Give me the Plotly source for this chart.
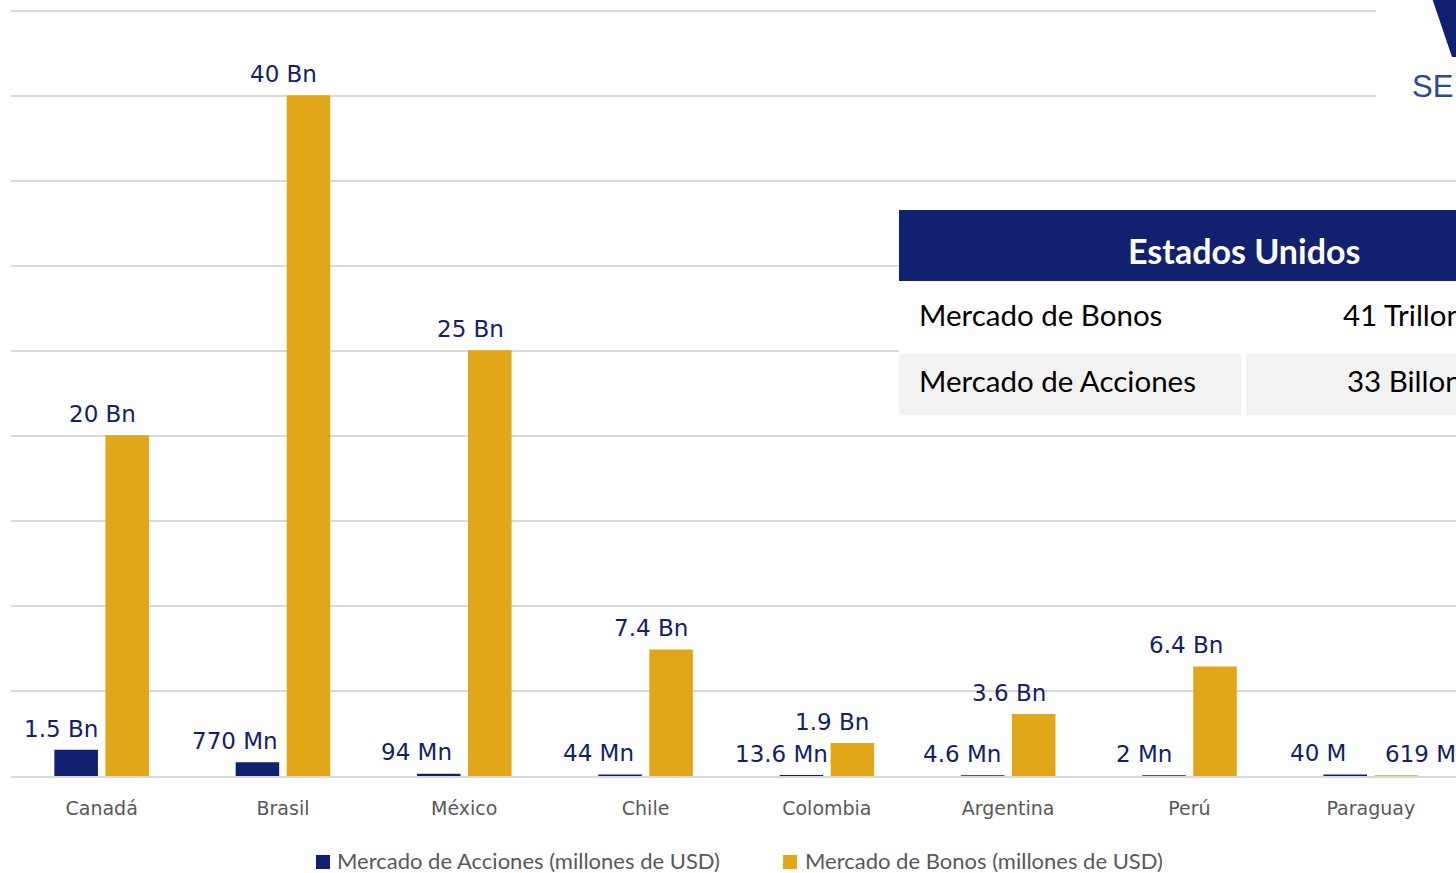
import plotly.graph_objects as go

# ---------------- data ----------------
paises = ["Canadá", "Brasil", "México", "Chile", "Colombia", "Argentina", "Perú", "Paraguay"]
acciones = [1500, 770, 94, 44, 13.6, 4.6, 2, 40]          # millones de USD
# Paraguay's bond bar is drawn at (almost) zero height in the picture
bonos = [20000, 40000, 25000, 7400, 1900, 3600, 6400, 0.619]
acciones_txt = ["1.5 Bn", "770 Mn", "94 Mn", "44 Mn", "13.6 Mn", "4.6 Mn", "2 Mn", "40 M"]
bonos_txt = ["20 Bn", "40 Bn", "25 Bn", "7.4 Bn", "1.9 Bn", "3.6 Bn", "6.4 Bn", "619 M"]
serie_acciones = "Mercado de Acciones (millones de USD)"
serie_bonos = "Mercado de Bonos (millones de USD)"
tabla_titulo = "Estados Unidos"
tabla_filas = ["Mercado de Bonos", "Mercado de Acciones"]
tabla_valores = ["41 Trillones", "33 Billones"]

# ---------------- style ----------------
NAVY = "#10206e"
GOLD = "#e2a619"
LABEL = "#13216a"
GRAY_TXT = "#595959"
GRID = "#d9d9d9"
W, H = 1456, 873
ML, MR, MT, MB = 11, 0, 6, 97
YMAX = 45294  # slightly above 45000 so the top gridline is drawn

# label nudges (pixels, relative to category centre)
shift_acc = [-41, -48, -48, -47, -45, -46, -45, -53]
shift_bon = [1, 1, 6, 5, 5, 1, -3, 50]


def px(xpix):
    return (xpix - ML) / (W - ML - MR)


def py(ypix):
    return (H - MB - ypix) / (H - MT - MB)


fig = go.Figure()
fig.add_trace(go.Bar(
    x=paises, y=acciones, name=serie_acciones,
    marker=dict(color=NAVY, line=dict(color=NAVY, width=1.5)),
))
fig.add_trace(go.Bar(
    x=paises, y=bonos, name=serie_bonos,
    marker=dict(color=GOLD, line=dict(color=GOLD, width=1.5)),
))

annotations = []
for i, p in enumerate(paises):
    annotations.append(dict(
        x=p, y=acciones[i], xref="x", yref="y", text=acciones_txt[i],
        showarrow=False, xanchor="center", yanchor="bottom",
        xshift=shift_acc[i], yshift=7,
        font=dict(family="DejaVu Sans", size=23, color=LABEL),
    ))
    annotations.append(dict(
        x=p, y=bonos[i], xref="x", yref="y", text=bonos_txt[i],
        showarrow=False, xanchor="center", yanchor="bottom",
        xshift=shift_bon[i], yshift=7,
        font=dict(family="DejaVu Sans", size=23, color=LABEL),
    ))

shapes = []
# logo background and mark
shapes.append(dict(type="rect", xref="paper", yref="paper", layer="above",
                   x0=px(1376), x1=px(1500), y0=py(112), y1=py(-5),
                   fillcolor="white", line=dict(width=0)))
shapes.append(dict(type="path", xref="paper", yref="paper", layer="above",
                   path=f"M {px(1432)} {py(-2)} L {px(1470)} {py(-2)} L {px(1470)} {py(57)} "
                        f"L {px(1452)} {py(57)} Z",
                   fillcolor=NAVY, line=dict(width=0)))
annotations.append(dict(x=px(1410), y=py(86), xref="paper", yref="paper", text="SE",
                        showarrow=False, xanchor="left", yanchor="middle",
                        font=dict(family="Liberation Sans", size=31, color="#2b4a9b")))

# table overlay
shapes.append(dict(type="rect", xref="paper", yref="paper", layer="above",
                   x0=px(899), x1=px(1600), y0=py(281), y1=py(210),
                   fillcolor="#11216f", line=dict(width=0)))
shapes.append(dict(type="rect", xref="paper", yref="paper", layer="above",
                   x0=px(899), x1=px(1600), y0=py(352), y1=py(281),
                   fillcolor="white", line=dict(width=0)))
shapes.append(dict(type="rect", xref="paper", yref="paper", layer="above",
                   x0=px(899), x1=px(1241), y0=py(415), y1=py(354),
                   fillcolor="#f2f2f2", line=dict(width=0)))
shapes.append(dict(type="rect", xref="paper", yref="paper", layer="above",
                   x0=px(1246), x1=px(1600), y0=py(415), y1=py(354),
                   fillcolor="#f2f2f2", line=dict(width=0)))
annotations.append(dict(x=px(1244), y=py(250), xref="paper", yref="paper",
                        text=f"<b>{tabla_titulo}</b>", showarrow=False,
                        xanchor="center", yanchor="middle",
                        font=dict(family="Lato", size=34, color="white")))
for j, (lab, val, yy) in enumerate(zip(tabla_filas, tabla_valores, [314, 380])):
    annotations.append(dict(x=px(917), y=py(yy), xref="paper", yref="paper", text=lab,
                            showarrow=False, xanchor="left", yanchor="middle",
                            font=dict(family="Lato", size=29.5, color="black")))
    annotations.append(dict(x=px(1341 + 4 * j), y=py(yy), xref="paper", yref="paper", text=val,
                            showarrow=False, xanchor="left", yanchor="middle",
                            font=dict(family="Lato", size=29.5, color="black")))

# manual legend (keeps the plot area fixed)
for (sx, tx, name, col) in [(316, 335, serie_acciones, NAVY), (783, 803, serie_bonos, GOLD)]:
    shapes.append(dict(type="rect", xref="paper", yref="paper", layer="above",
                       x0=px(sx), x1=px(sx + 14), y0=py(869), y1=py(855),
                       fillcolor=col, line=dict(width=0)))
    annotations.append(dict(x=px(tx), y=py(860), xref="paper", yref="paper", text=name,
                            showarrow=False, xanchor="left", yanchor="middle",
                            height=24, valign="middle",
                            font=dict(family="Lato", size=22, color=GRAY_TXT)))

fig.update_layout(
    width=W, height=H,
    margin=dict(l=ML, r=MR, t=MT, b=MB, pad=0),
    paper_bgcolor="white", plot_bgcolor="white",
    barmode="group", bargap=0.437, bargroupgap=0.176,
    showlegend=False,
    xaxis=dict(range=[-0.5, 7.47], showgrid=False, showline=True, linecolor=GRID, linewidth=2,
               ticks="outside", ticklen=14, tickcolor="rgba(0,0,0,0)",
               tickfont=dict(family="DejaVu Sans", size=19, color=GRAY_TXT), fixedrange=True),
    yaxis=dict(range=[0, YMAX], dtick=5000, showticklabels=False, showgrid=True,
               gridcolor=GRID, gridwidth=2, zeroline=False, fixedrange=True),
    annotations=annotations,
    shapes=shapes,
)

fig.write_html("out.html", config={"displayModeBar": False})
